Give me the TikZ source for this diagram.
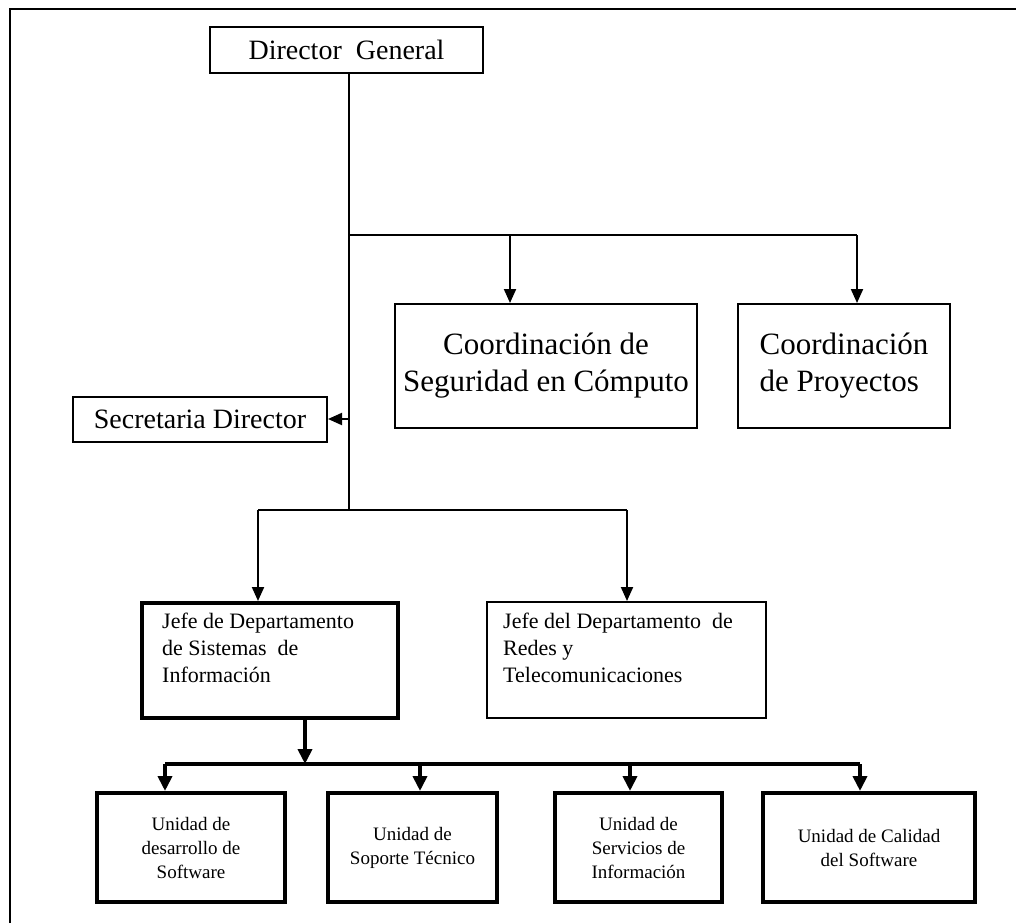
\documentclass[tikz,border=0pt]{standalone}
\usepackage{fontspec}
\setmainfont{Liberation Serif}
\usetikzlibrary{arrows.meta}
\begin{document}
\begin{tikzpicture}[x=1pt,y=-1pt,
  box/.style={draw, line width=2pt, inner sep=0pt, align=center},
  tbox/.style={draw, line width=4pt, inner sep=0pt, align=center},
  ln/.style={line width=2pt},
  tln/.style={line width=4pt},
  arr/.style={line width=2pt, -{Triangle[length=14pt,width=12pt]}},
  tarr/.style={line width=4pt, -{Triangle[length=15pt,width=14pt]}},
  big/.style={font=\fontsize{28}{33}\selectfont},
  bigger/.style={font=\fontsize{31}{37}\selectfont},
  mid/.style={font=\fontsize{22}{27}\selectfont},
  small/.style={font=\fontsize{19}{24}\selectfont},
]
\useasboundingbox (0,0) rectangle (1016,923);
% outer frame
\draw[line width=2.5pt] (10,923) -- (10,9) -- (1016,9);

% boxes
\node[box, big, minimum width=273pt, minimum height=46pt] (dg) at (346.5,50) {Director~ General};
\node[box, bigger, minimum width=302pt, minimum height=124pt] (seg) at (546,366) {Coordinación de\\Seguridad en Cómputo};
\node[box, bigger, align=left, minimum width=212pt, minimum height=124pt] (proy) at (844,366) {Coordinación\\de Proyectos};
\node[box, big, minimum width=254pt, minimum height=45pt] (sec) at (200,419) {Secretaria Director};

\node[tbox, minimum width=256pt, minimum height=115pt] (jefe) at (270,660.5) {};
\node[mid, anchor=north west, align=left, inner sep=0pt] (jefet) at (162,613) {Jefe de Departamento\\de Sistemas~ de\\Información};
\node[box, minimum width=279pt, minimum height=116pt] (redes) at (626.5,660) {};
\node[mid, anchor=north west, align=left, inner sep=0pt] (redest) at (503,613) {Jefe del Departamento~ de\\Redes y\\Telecomunicaciones};

\node[tbox, small, minimum width=188pt, minimum height=109pt] (u1) at (191,847.5) {Unidad de\\desarrollo de\\Software};
\node[tbox, small, minimum width=169pt, minimum height=109pt] (u2) at (412.5,847.5) {Unidad de\\Soporte Técnico};
\node[tbox, small, minimum width=167pt, minimum height=109pt] (u3) at (638.5,847.5) {Unidad de\\Servicios de\\Información};
\node[tbox, small, minimum width=212pt, minimum height=109pt] (u4) at (869,847.5) {Unidad de Calidad\\del Software};

% trunk
\coordinate (t1) at (349,235);
\coordinate (t2) at (349,510);
\coordinate (t3) at (349,419);
\draw[ln] (dg.south -| t1) -- (t2);

% coordination branch
\coordinate (s1) at (510,235);
\coordinate (s2) at (857,235);
\draw[ln] (t1) -- (s2);
\draw[arr] (s1) -- (s1 |- seg.north);
\draw[arr] (s2) -- (s2 |- proy.north);

% secretary
\draw[arr] (t3) -- (sec.east);

% department branch
\coordinate (b1) at (258,510);
\coordinate (b2) at (627,510);
\draw[ln] (b1) -- (b2);
\draw[arr] (b1) -- (b1 |- jefe.north);
\draw[arr] (b2) -- (b2 |- redes.north);

% units branch
\coordinate (c0) at (305,764);
\draw[tarr] (jefe.south -| c0) -- (c0);
\coordinate (c1) at (165,764);
\coordinate (c2) at (420,764);
\coordinate (c3) at (630,764);
\coordinate (c4) at (860,764);
\draw[tln] (c1) -- (c4);
\draw[tarr] (c1) -- (c1 |- u1.north);
\draw[tarr] (c2) -- (c2 |- u2.north);
\draw[tarr] (c3) -- (c3 |- u3.north);
\draw[tarr] (c4) -- (c4 |- u4.north);
\end{tikzpicture}
\end{document}
